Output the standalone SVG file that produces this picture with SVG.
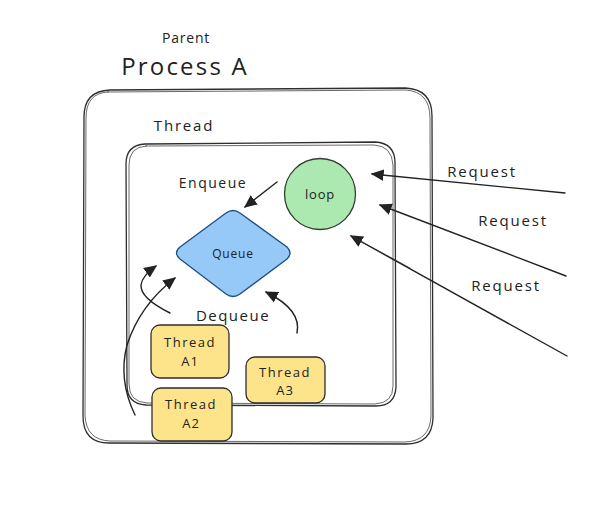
<svg xmlns="http://www.w3.org/2000/svg" width="599" height="513" viewBox="0 0 599 513">
  <style>
    .sk { fill: none; stroke: #2e2e2e; stroke-width: 1.3; stroke-linecap: round; }
    .sk2 { fill: none; stroke: #2e2e2e; stroke-width: 0.9; stroke-linecap: round; opacity: 0.8; }
    .lbl { font-family: "Open Sans", "Liberation Sans", sans-serif; fill: #222; letter-spacing: 0.8px; }
    .thr { fill: #fde38a; stroke: #2e2e2e; stroke-width: 1.3; }
    .ar { fill: none; stroke: #222; stroke-width: 1.4; stroke-linecap: round; }
  </style>
  <defs>
    <marker id="headL" viewBox="0 0 10 10" refX="9" refY="5" markerWidth="13" markerHeight="13" markerUnits="userSpaceOnUse" orient="auto">
      <path d="M0,0.5 L10,5 L0,9.5 Z" fill="#222"/>
    </marker>
  </defs>

  <rect width="599" height="513" fill="#ffffff"/>

  <!-- title -->
  <g id="title">
    <text class="lbl" x="186" y="43" font-size="14" text-anchor="middle">Parent</text>
    <text class="lbl" x="185" y="75" font-size="24" text-anchor="middle" style="letter-spacing:2.2px">Process A</text>
  </g>

  <!-- process container -->
  <g id="process">
    <path class="sk" d="M110,90 L405,88 Q432,89 432,116 L433,418 Q432,444 406,444 L109,443 Q83,443 83,416 L84,117 Q84,91 110,90 Z"/>
    <path class="sk2" d="M108,92 L406,90 Q430,92 430,118 L431,416 Q430,441 405,442 L110,441 Q86,440 85,415 L86,118 Q86,93 108,92 Z"/>
  </g>

  <!-- thread container -->
  <g id="thread">
    <text class="lbl" x="184" y="131" font-size="15" text-anchor="middle" style="letter-spacing:1.8px">Thread</text>
    <path class="sk" d="M145,144 L375,142 Q395,143 395,163 L396,387 Q395,406 376,406 L146,405 Q127,404 127,385 L126,164 Q126,145 145,144 Z"/>
    <path class="sk2" d="M146,146 L374,145 Q392,146 393,165 L393,386 Q393,403 375,404 L147,403 Q129,402 129,384 L129,165 Q129,147 146,146 Z"/>
  </g>

  <!-- loop -->
  <g id="loop">
    <circle cx="320" cy="194" r="35.5" fill="#abe9b0" stroke="#2f3f2f" stroke-width="1.3"/>
    <text class="lbl" x="320" y="199" font-size="13" text-anchor="middle">loop</text>
  </g>

  <!-- queue -->
  <g id="queue">
    <path d="M226,213 Q233,208 240,213 L287,247 Q293,253 287,259 L240,294 Q233,299 226,294 L180,259 Q173,253 180,247 Z" fill="#96c8f8" stroke="#1d4f82" stroke-width="1.3"/>
    <text class="lbl" x="233" y="258" font-size="12" text-anchor="middle">Queue</text>
  </g>

  <!-- worker threads -->
  <g id="threadA1">
    <rect class="thr" x="151" y="325" width="78" height="53" rx="9"/>
    <text class="lbl" x="190" y="347" font-size="13" text-anchor="middle" style="letter-spacing:1.5px">Thread</text>
    <text class="lbl" x="190" y="366" font-size="13" text-anchor="middle">A1</text>
  </g>
  <g id="threadA3">
    <rect class="thr" x="246" y="357" width="79" height="46" rx="9"/>
    <text class="lbl" x="285" y="377" font-size="13" text-anchor="middle" style="letter-spacing:1.5px">Thread</text>
    <text class="lbl" x="285" y="395" font-size="13" text-anchor="middle">A3</text>
  </g>
  <g id="threadA2">
    <rect class="thr" x="152" y="388" width="80" height="53" rx="9"/>
    <text class="lbl" x="191" y="409" font-size="13" text-anchor="middle" style="letter-spacing:1.5px">Thread</text>
    <text class="lbl" x="191" y="428" font-size="13" text-anchor="middle">A2</text>
  </g>

  <!-- labels -->
  <g id="labels">
    <text class="lbl" x="213" y="188" font-size="14" text-anchor="middle" style="letter-spacing:1.5px">Enqueue</text>
    <text class="lbl" x="233" y="321" font-size="15" text-anchor="middle" style="letter-spacing:1.5px">Dequeue</text>
    <text class="lbl" x="482" y="177" font-size="15" text-anchor="middle" style="letter-spacing:1.8px">Request</text>
    <text class="lbl" x="513" y="226" font-size="15" text-anchor="middle" style="letter-spacing:1.8px">Request</text>
    <text class="lbl" x="506" y="291" font-size="15" text-anchor="middle" style="letter-spacing:1.8px">Request</text>
  </g>

  <!-- connectors -->
  <g id="connectors">
    <path class="ar" d="M277,182 L245,207" marker-end="url(#headL)"/>
    <path class="ar" d="M170,313 Q140,298 141,285 Q142,276 156,266" marker-end="url(#headL)"/>
    <path class="ar" d="M135,415 Q118,380 127,345 Q140,305 175,278" marker-end="url(#headL)"/>
    <path class="ar" d="M297,333 Q302,310 266,292" marker-end="url(#headL)"/>
    <path class="ar" d="M565,193 L372,174" marker-end="url(#headL)"/>
    <path class="ar" d="M566,276 L380,205" marker-end="url(#headL)"/>
    <path class="ar" d="M567,356 L351,236" marker-end="url(#headL)"/>
    <path class="sk2" d="M410,268 L353,237"/>
  </g>
</svg>
